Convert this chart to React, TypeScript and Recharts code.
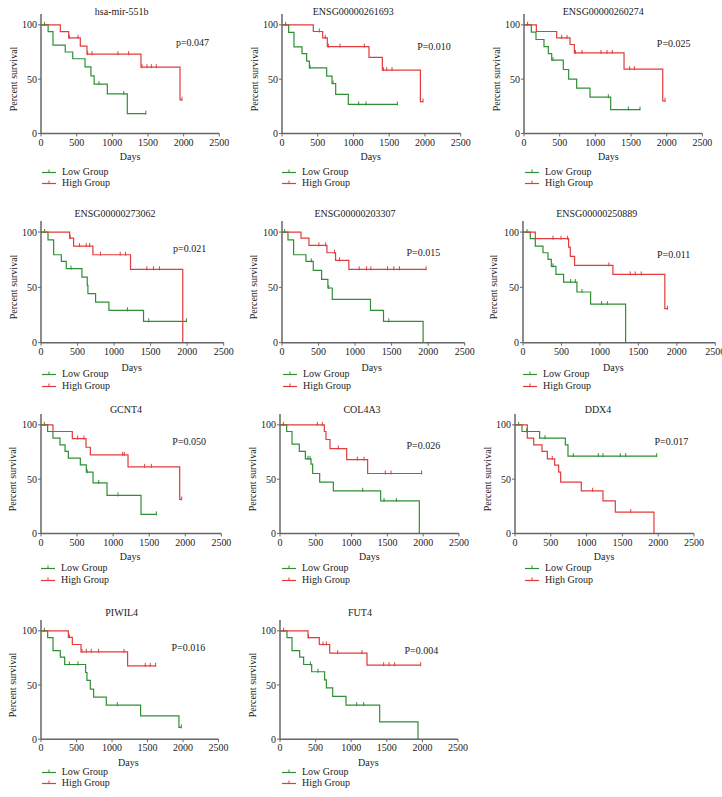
import React from 'react';
import { ComposedChart, Line, XAxis, YAxis } from 'recharts';

// event steps: [days, survival after drop]; censor: days
const mirLow = [[100, 93.8], [168, 81.3], [340, 75], [445, 68.8], [617, 61.3], [700, 53], [745, 45.5], [930, 36.4], [1210, 18.2]];
const mirLowCens = [50, 813, 1160, 1470];
const mirHigh = [[271, 93.8], [388, 88], [551, 80.4], [645, 73], [1402, 61], [1949, 31]];
const mirHighCens = [397, 519, 654, 715, 1079, 1229, 1416, 1486, 1547, 1617, 1977];

const e261693Low = [[93, 93], [168, 79.8], [280, 73.6], [345, 66.6], [383, 60.4], [625, 52.8], [700, 46], [751, 35.9], [928, 26.7]];
const e261693LowCens = [51, 392, 714, 1073, 1175, 1614];
const e261693High = [[438, 93.9], [569, 88], [634, 80], [1217, 70], [1404, 58.3], [1936, 29.4]];
const e261693HighCens = [522, 606, 648, 812, 1152, 1418, 1465, 1539, 1973];

const e260274Low = [[103, 93.3], [168, 86.5], [280, 80], [341, 73.6], [388, 67.5], [551, 58.9], [626, 50], [738, 41.7], [925, 33.4], [1215, 22]];
const e260274LowCens = [51, 407, 1182, 1463, 1626];
const e260274High = [[173, 93.9], [458, 88], [645, 81.9], [706, 74.2], [1402, 59.2], [1944, 30]];
const e260274HighCens = [528, 603, 720, 813, 1079, 1164, 1238, 1481, 1547, 1977];

const e273062Low = [[96, 93], [173, 79.5], [278, 73.5], [346, 66.9], [560, 59.3], [633, 51.8], [642, 44.3], [747, 36.7], [929, 29.2], [1403, 19.3]];
const e273062LowCens = [50, 410, 1184, 1475, 1990];
const e273062High = [[392, 94.6], [446, 87.3], [710, 79.5], [1225, 66.3], [1940, 0]];
const e273062HighCens = [400, 528, 619, 665, 815, 1084, 1157, 1448, 1539, 1621];

const e203307Low = [[82, 93], [159, 79.5], [328, 73.5], [428, 65.4], [542, 57.2], [628, 49.4], [688, 39.2], [1211, 29.2], [1389, 19.3], [1931, 0]];
const e203307LowCens = [36, 401, 640, 1462];
const e203307High = [[260, 94.6], [369, 88], [615, 81.3], [733, 74.4], [915, 66.3]];
const e203307HighCens = [505, 597, 719, 788, 1056, 1157, 1216, 1444, 1530, 1607, 1972];

const e250889Low = [[95, 94], [160, 87.3], [260, 81.3], [325, 75.3], [368, 69], [428, 61.7], [528, 54.8], [701, 45.8], [879, 34.9], [1334, 0]];
const e250889LowCens = [52, 390, 619, 680, 767, 1022, 1096];
const e250889High = [[160, 94], [593, 86.4], [615, 78], [671, 69.9], [1169, 61.7], [1844, 30.7]];
const e250889HighCens = [390, 494, 580, 1117, 1394, 1459, 1537, 1879];

const gcnt4Low = [[92, 93.9], [166, 87.7], [263, 81.6], [333, 75.5], [379, 69.3], [545, 63.2], [628, 56.4], [721, 46.6], [915, 35], [1386, 17.5]];
const gcnt4LowCens = [46, 640, 800, 1067, 1599];
const gcnt4High = [[166, 93.9], [434, 87.4], [624, 79.4], [684, 72.4], [1206, 61.3], [1922, 31.3]];
const gcnt4HighCens = [508, 596, 1132, 1155, 1437, 1529, 1950];

const col4a3Low = [[93, 93.9], [168, 82.2], [270, 75.5], [354, 68.7], [433, 63.8], [456, 55.2], [554, 47.2], [745, 39.3], [1406, 30], [1946, 0]];
const col4a3LowCens = [47, 391, 419, 1155, 1453, 1625];
const col4a3High = [[619, 93.9], [642, 86.5], [698, 78.2], [931, 68], [1224, 55.2]];
const col4a3HighCens = [521, 591, 815, 1080, 1173, 1471, 1550, 1978];

const ddx4Low = [[98, 93.9], [344, 87.7], [703, 81.6], [740, 71.2]];
const ddx4LowCens = [51, 163, 419, 815, 1164, 1229, 1471, 1546, 1979];
const ddx4High = [[172, 87.7], [261, 81.6], [377, 75.5], [452, 68.7], [554, 62.9], [610, 56.4], [638, 47.2], [926, 39.3], [1229, 30], [1401, 19.6], [1941, 0]];
const ddx4HighCens = [521, 1085, 1616];

const piwil4Low = [[94, 93.8], [169, 81.8], [272, 75.7], [333, 68.9], [628, 61.5], [647, 54.2], [694, 46.2], [741, 38.8], [919, 31.4], [1402, 21.5], [1942, 10.8]];
const piwil4LowCens = [47, 399, 521, 1074, 1975];
const piwil4High = [[385, 94], [441, 87.4], [563, 80.6], [1219, 67.7]];
const piwil4HighCens = [400, 577, 638, 708, 811, 1168, 1468, 1538, 1614];

const fut4Low = [[98, 93.8], [169, 81.8], [276, 75.7], [332, 68.9], [445, 62.2], [627, 54.8], [651, 47.4], [740, 39.4], [927, 31.4], [1400, 16], [1938, 0]];
const fut4LowCens = [51, 426, 534, 1077, 1175];
const fut4High = [[393, 93.8], [552, 87.4], [698, 79.4], [1222, 68.3]];
const fut4HighCens = [400, 604, 651, 810, 1152, 1456, 1531, 1611, 1976];

const xTicks = [0, 500, 1000, 1500, 2000, 2500];
const yTicks = [0, 50, 100];

const GREEN = '#2f8f35';
const RED = '#e23b3b';
const AXIS = '#666';
const FONT = "'Liberation Serif', 'Times New Roman', serif";

// build step data with censored points sitting on the curve
function km(events: number[][], cens: number[]) {
  const pts: { t: number; s: number; c?: boolean }[] = [{ t: 0, s: 100 }];
  events.forEach(([t, s]) => pts.push({ t, s }));
  cens.forEach((t) => {
    let s = 100;
    events.forEach(([et, es]) => { if (et <= t) s = es; });
    pts.push({ t, s, c: true });
  });
  return pts.sort((a, b) => a.t - b.t || (a.c ? 1 : 0) - (b.c ? 1 : 0));
}

const panels = [
  { title: 'hsa-mir-551b', p: 'p=0.047', low: km(mirLow, mirLowCens), high: km(mirHigh, mirHighCens), box: [40.7, 219, 24.7, 133.3], ttl: [121.7, 12.3], pv: [192.5, 43.3], days: [130, 156.7], leg: [42, 171.7], yl: 14 },
  { title: 'ENSG00000261693', p: 'P=0.010', low: km(e261693Low, e261693LowCens), high: km(e261693High, e261693HighCens), box: [282, 460.7, 24.7, 133.3], ttl: [353.3, 11.7], pv: [434, 46.7], days: [370.7, 156.7], leg: [282, 171.7], yl: 255 },
  { title: 'ENSG00000260274', p: 'P=0.025', low: km(e260274Low, e260274LowCens), high: km(e260274High, e260274HighCens), box: [524.3, 702.7, 24.7, 133.3], ttl: [603.3, 12.3], pv: [673.7, 44.3], days: [608.3, 157.3], leg: [525, 171.7], yl: 496.7 },
  { title: 'ENSG00000273062', p: 'p=0.021', low: km(e273062Low, e273062LowCens), high: km(e273062High, e273062HighCens), box: [41.3, 224, 231.7, 342.3], ttl: [115, 214], pv: [189.7, 249.3], days: [131.7, 368.3], leg: [42, 374], yl: 14 },
  { title: 'ENSG00000203307', p: 'P=0.015', low: km(e203307Low, e203307LowCens), high: km(e203307High, e203307HighCens), box: [282.3, 465, 231.7, 342.3], ttl: [355, 214], pv: [423.3, 253.3], days: [371.7, 368.3], leg: [283, 374], yl: 254 },
  { title: 'ENSG00000250889', p: 'P=0.011', low: km(e250889Low, e250889LowCens), high: km(e250889High, e250889HighCens), box: [522.7, 715, 231.7, 342.3], ttl: [596.7, 214], pv: [673.7, 255], days: [613.3, 368.3], leg: [523, 374], yl: 494 },
  { title: 'GCNT4', p: 'P=0.050', low: km(gcnt4Low, gcnt4LowCens), high: km(gcnt4High, gcnt4HighCens), box: [41.3, 221.7, 424.7, 533.3], ttl: [126, 410], pv: [189.2, 441.7], days: [130, 556.7], leg: [41, 568.3], yl: 13.3 },
  { title: 'COL4A3', p: 'P=0.026', low: km(col4a3Low, col4a3LowCens), high: km(col4a3High, col4a3HighCens), box: [280, 459, 424.7, 533.3], ttl: [362, 410], pv: [423.3, 446], days: [369.3, 556.7], leg: [282, 568.3], yl: 252.7 },
  { title: 'DDX4', p: 'P=0.017', low: km(ddx4Low, ddx4LowCens), high: km(ddx4High, ddx4HighCens), box: [515.3, 694.3, 424.7, 533.3], ttl: [598, 410], pv: [671.3, 441.7], days: [604, 556.7], leg: [525, 568.3], yl: 488.3 },
  { title: 'PIWIL4', p: 'P=0.016', low: km(piwil4Low, piwil4LowCens), high: km(piwil4High, piwil4HighCens), box: [40.7, 218.3, 630.7, 739], ttl: [121.7, 613], pv: [188.3, 647.7], days: [128.3, 762.7], leg: [41.7, 771.7], yl: 13.3 },
  { title: 'FUT4', p: 'P=0.004', low: km(fut4Low, fut4LowCens), high: km(fut4High, fut4HighCens), box: [279.7, 457.7, 630.7, 739], ttl: [360, 613], pv: [421.3, 651], days: [368.3, 762.7], leg: [282, 771.7], yl: 252.7 },
];

const censor = (props: any) => {
  const { cx, cy, payload, index, stroke } = props;
  if (!payload || !payload.c) return <g key={index} />;
  return <line key={index} x1={cx} x2={cx} y1={cy - 3} y2={cy + 1} stroke={stroke} strokeWidth={1} />;
};

const txt = (x: number, y: number, s: string, extra: React.CSSProperties = {}) => (
  <div style={{ position: 'absolute', left: x, top: y, transform: 'translate(-50%, -50%)', whiteSpace: 'nowrap', fontSize: 10, fontFamily: FONT, color: '#222', lineHeight: 1, ...extra }}>{s}</div>
);

const LegendItem = ({ x, y, color, label }: { x: number; y: number; color: string; label: string }) => (
  <div style={{ position: 'absolute', left: x, top: y - 6, height: 12, display: 'flex', alignItems: 'center', whiteSpace: 'nowrap' }}>
    <svg width={20} height={12}>
      <line x1={0} x2={14} y1={6.5} y2={6.5} stroke={color} strokeWidth={1.2} />
      <line x1={7} x2={7} y1={3.5} y2={6.5} stroke={color} strokeWidth={1} />
    </svg>
    <span style={{ fontSize: 10, fontFamily: FONT, color: '#222', lineHeight: 1 }}>{label}</span>
  </div>
);

const L = 40, T = 6, R = 12, B = 24;

const Panel = ({ cfg }: { cfg: any }) => {
  const [x0, x1, y100, yz] = cfg.box;
  const yTop = y100 - (yz - y100) * 0.1;
  const pw = x1 - x0;
  const ph = yz - yTop;
  const tick = { fontSize: 10, fill: '#222', fontFamily: FONT };
  return (
    <>
      <div style={{ position: 'absolute', left: x0 - L, top: yTop - T }}>
        <ComposedChart width={L + pw + R} height={T + ph + B} margin={{ top: T, right: R, left: L - 30, bottom: B - 20 }}>
          <XAxis type="number" dataKey="t" domain={[0, 2500]} ticks={xTicks} interval={0} height={20}
            tick={tick} tickSize={3} tickMargin={2} axisLine={{ stroke: AXIS, strokeWidth: 1.5 }} tickLine={{ stroke: AXIS }} />
          <YAxis type="number" domain={[0, 110]} ticks={yTicks} width={30} interval={0}
            tick={tick} tickSize={3} tickMargin={1} axisLine={{ stroke: AXIS, strokeWidth: 1.5 }} tickLine={{ stroke: AXIS }} />
          <Line data={cfg.low} dataKey="s" type="stepAfter" stroke={GREEN} strokeWidth={1.2} dot={censor} activeDot={false} isAnimationActive={false} />
          <Line data={cfg.high} dataKey="s" type="stepAfter" stroke={RED} strokeWidth={1.2} dot={censor} activeDot={false} isAnimationActive={false} />
        </ComposedChart>
      </div>
      {txt(cfg.ttl[0], cfg.ttl[1], cfg.title)}
      {txt(cfg.pv[0], cfg.pv[1], cfg.p)}
      {txt(cfg.days[0], cfg.days[1], 'Days')}
      {txt(cfg.yl, (y100 + yz) / 2, 'Percent survival', { transform: 'translate(-50%, -50%) rotate(-90deg)' })}
      <LegendItem x={cfg.leg[0]} y={cfg.leg[1]} color={GREEN} label="Low Group" />
      <LegendItem x={cfg.leg[0]} y={cfg.leg[1] + 11.5} color={RED} label="High Group" />
    </>
  );
};

export default function App() {
  return (
    <div style={{ position: 'absolute', left: 0, top: 0, width: 722, height: 797, overflow: 'hidden', background: '#fff' }}>
      {panels.map((cfg, i) => <Panel key={i} cfg={cfg} />)}
    </div>
  );
}
